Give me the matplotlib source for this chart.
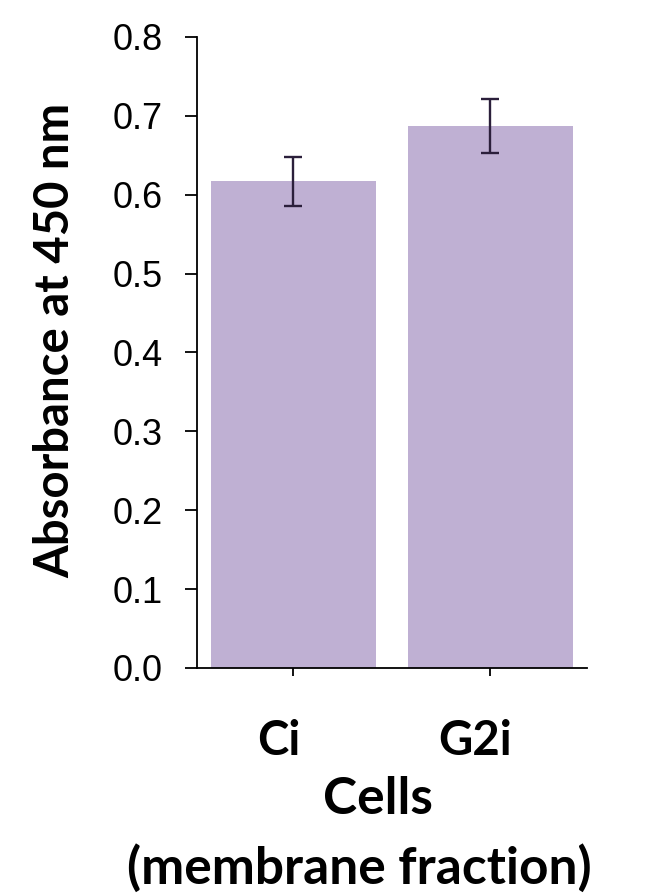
import matplotlib.pyplot as plt
import matplotlib.transforms as mtransforms

cells = ["Ci", "G2i"]
absorbance = [0.617, 0.687]
errors = [0.031, 0.034]
yticks = [0.0, 0.1, 0.2, 0.3, 0.4, 0.5, 0.6, 0.7, 0.8]

fig = plt.figure(figsize=(6.5, 8.93), dpi=100)
ax = fig.add_axes([0.303, 0.252, 0.600, 0.7066])

x = range(len(cells))
ax.bar(x, absorbance, width=0.84, color="#bfb0d3", zorder=2)
ax.errorbar(x, absorbance, yerr=errors, fmt="none", ecolor="#2b1f3b",
            elinewidth=1.7, capsize=6.5, capthick=1.7, zorder=3)

ax.set_xlim(-0.49, 1.49)
ax.set_ylim(0, 0.8)
ax.set_yticks(yticks)
ax.set_yticklabels(["%.1f" % v for v in yticks], family="Liberation Sans", fontsize=26)
ax.set_xticks(list(x))
ax.set_xticklabels(cells, family="Lato", fontweight="bold", fontsize=34)

ax.spines["top"].set_visible(False)
ax.spines["right"].set_visible(False)
for s in ("left", "bottom"):
    ax.spines[s].set_linewidth(1.3)
ax.tick_params(axis="y", direction="out", length=8.5, width=1.3, pad=16)
ax.tick_params(axis="x", direction="out", length=6, width=1.3, pad=31)

fig.text(55 / 650, 1 - 340 / 893, "Absorbance at 450 nm", family="Lato",
         fontweight="bold", fontsize=34, rotation=90, ha="center", va="center")
fig.text(378 / 650, 1 - 800 / 893, "Cells", family="Lato",
         fontweight="bold", fontsize=37, ha="center", va="center")
fig.text(359 / 650, 1 - 868 / 893, "(membrane fraction)", family="Lato",
         fontweight="bold", fontsize=37, ha="center", va="center")

# category labels sit a little left of the ticks in the original
fig.canvas.draw()
shift = mtransforms.ScaledTranslation(-15 / 100, 0, fig.dpi_scale_trans)
for lab in ax.get_xticklabels():
    lab.set_transform(lab.get_transform() + shift)

fig.savefig("out.png", dpi=100)
plt.close()
